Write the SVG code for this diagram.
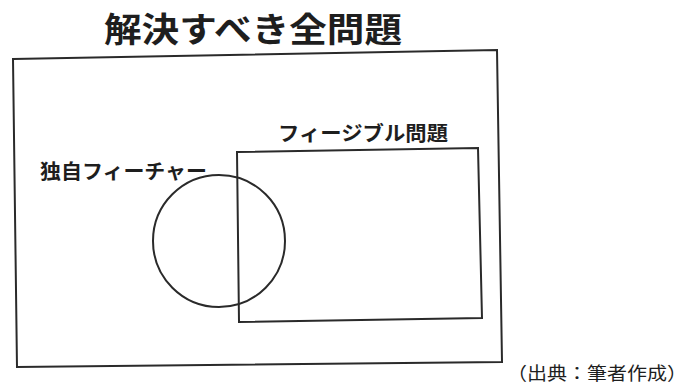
<svg xmlns="http://www.w3.org/2000/svg" width="690" height="386" viewBox="0 0 690 386">
<style>
.ln{fill:none;stroke:#2a2a2a;stroke-width:2}
.t{font-family:"Noto Sans CJK JP","Noto Sans",sans-serif;fill:#1e1e1e}
</style>
<rect width="690" height="386" fill="#fff"/>
<g id="all-problems">
<polygon class="ln" points="13,59 497,50 502,362 17,367"/>
<text class="t" x="104" y="42" font-size="34" font-weight="bold" textLength="298" lengthAdjust="spacingAndGlyphs">解決すべき全問題</text>
</g>
<g id="feasible-problems">
<polygon class="ln" points="237,152 478,148 482,318 239,322"/>
<text class="t" x="278" y="141" font-size="20" font-weight="bold" textLength="170" lengthAdjust="spacingAndGlyphs">フィージブル問題</text>
</g>
<g id="unique-features">
<circle class="ln" cx="219" cy="241" r="66"/>
<text class="t" x="40" y="179" font-size="20" font-weight="bold" textLength="167" lengthAdjust="spacingAndGlyphs">独自フィーチャー</text>
</g>
<g id="connectors"></g>
<g id="source">
<text class="t" x="507" y="380" font-size="18" fill="#333" textLength="180" lengthAdjust="spacingAndGlyphs">（出典：筆者作成）</text>
</g>
</svg>
